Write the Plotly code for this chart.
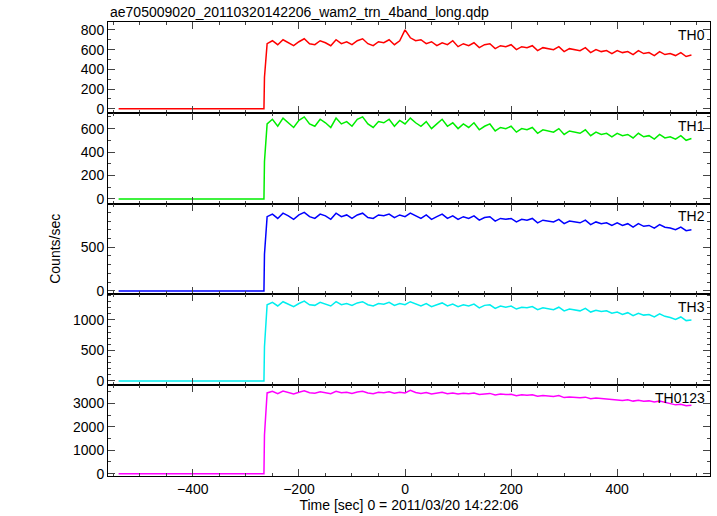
import plotly.graph_objects as go
from plotly.subplots import make_subplots

names = ["TH0", "TH1", "TH2", "TH3", "TH0123"]
colors = ["#ff0000", "#00ee00", "#0000ff", "#00eeee", "#ff00ff"]
pre_t = [-540, -266, -265]
pre_vals = {
    "TH0": [0, 0, 320], "TH1": [0, 0, 320], "TH2": [0, 0, 420],
    "TH3": [0, 0, 560], "TH0123": [0, 0, 1650]}
t_start, t_step = -260, 10
TH0 = [660,690,650,700,670,640,680,710,660,650,
       690,670,640,700,660,680,650,690,710,660,
       640,680,670,700,650,690,800,720,690,700,660,680,640,670,650,690,
       630,660,640,670,620,650,660,610,640,630,
       650,600,630,620,640,590,620,610,600,630,
       580,610,600,590,620,570,600,580,590,560,
       590,570,580,550,590,560,570,540,580,550,
       560,540,570,530,545]
TH1 = [640,680,620,690,650,610,670,700,640,620,
       680,650,610,690,640,660,620,680,700,640,
       610,660,650,680,620,670,640,690,650,620,660,600,640,680,620,650,
       600,640,610,650,590,620,640,580,610,600,
       620,570,600,590,610,560,590,580,570,600,
       550,580,570,560,590,540,570,550,560,530,
       560,540,550,520,560,530,540,510,550,520,
       530,510,540,500,515]
TH2 = [850,880,830,890,860,820,870,900,850,830,
       880,860,820,890,850,870,830,870,890,840,
       830,870,860,880,840,870,850,890,860,830,870,820,850,880,830,860,
       820,850,830,860,810,840,850,800,830,820,
       830,790,820,810,830,780,810,800,790,820,
       770,800,790,780,810,760,790,770,780,750,
       780,750,770,730,770,740,750,720,760,730,
       720,700,730,690,700]
TH3 = [1250,1290,1230,1300,1260,1220,1270,1310,1250,1240,
       1290,1260,1230,1300,1250,1270,1240,1280,1300,1250,
       1230,1270,1260,1290,1240,1270,1250,1300,1260,1230,1270,1220,1250,1280,1230,1260,
       1220,1250,1230,1260,1200,1240,1250,1190,1230,1210,
       1230,1180,1210,1200,1220,1170,1200,1190,1170,1210,
       1150,1180,1170,1150,1190,1130,1160,1140,1150,1110,
       1130,1090,1120,1070,1110,1080,1090,1050,1100,1060,
       1040,1010,1050,990,1000]
TH0123 = [3450,3520,3420,3530,3470,3410,3480,3540,3460,3440,
          3500,3470,3420,3520,3460,3480,3430,3490,3520,3450,
          3420,3480,3460,3500,3440,3480,3450,3560,3470,3430,3470,3400,3440,3480,3420,3450,
          3400,3440,3410,3450,3380,3420,3430,3360,3400,3380,
          3390,3330,3370,3350,3370,3310,3340,3320,3300,3340,
          3250,3280,3260,3240,3270,3200,3230,3210,3210,3170,
          3180,3130,3160,3100,3140,3090,3110,3060,3100,3050,
          2980,2940,2970,2900,2920]
series = {"TH0": TH0, "TH1": TH1, "TH2": TH2, "TH3": TH3, "TH0123": TH0123}
yranges = [[-40, 880], [-40, 735], [-40, 1000], [-70, 1420], [-100, 3780]]
yticks = [[0, 200, 400, 600, 800], [0, 200, 400, 600], [0, 500], [0, 500, 1000], [0, 1000, 2000, 3000]]
ydticks = [100, 100, 100, 100, 500]

fig = make_subplots(rows=5, cols=1, shared_xaxes=True, vertical_spacing=0)
font = dict(family="Liberation Sans, Arial", size=14, color="black")
for i, n in enumerate(names):
    vals = series[n]
    t = pre_t + [t_start + t_step * k for k in range(len(vals))]
    y = pre_vals[n] + vals
    fig.add_trace(go.Scatter(x=t, y=y, mode="lines", line=dict(color=colors[i], width=1.5),
                             showlegend=False), row=i + 1, col=1)
    fig.update_yaxes(range=yranges[i], tickvals=yticks[i], ticks="inside", ticklen=7,
                     showline=True, linecolor="black", linewidth=1, mirror="ticks",
                     showgrid=False, zeroline=False, tickfont=font,
                     minor=dict(ticks="inside", ticklen=3, dtick=ydticks[i], tick0=0),
                     row=i + 1, col=1)
    fig.add_annotation(text=n, xref="x domain", yref="y domain" if i == 0 else f"y{i+1} domain",
                       x=0.995, y=0.97, xanchor="right", yanchor="top", showarrow=False,
                       font=font)
for i in range(5):
    fig.update_xaxes(range=[-560, 575], tickvals=[-400, -200, 0, 200, 400], ticks="inside",
                     ticklen=7, showline=True, linecolor="black", linewidth=1, mirror="ticks",
                     showgrid=False, zeroline=False, tickfont=font,
                     showticklabels=(i == 4),
                     minor=dict(ticks="inside", ticklen=3, dtick=50),
                     row=i + 1, col=1)
fig.update_xaxes(title=dict(text="Time [sec] 0 = 2011/03/20 14:22:06", font=font, standoff=2), row=5, col=1)
fig.add_annotation(text="Counts/sec", xref="paper", yref="paper", x=-0.105, y=0.5,
                   textangle=-90, showarrow=False, font=font)
fig.add_annotation(text="ae705009020_20110320142206_wam2_trn_4band_long.qdp", xref="paper",
                   yref="paper", x=0, y=1.0, yanchor="bottom", xanchor="left", showarrow=False,
                   font=font)
fig.update_layout(width=717, height=516, margin=dict(l=108, r=7, t=22, b=40),
                  plot_bgcolor="white", paper_bgcolor="white")
fig.write_html("out.html", config={"displayModeBar": False},
               post_script="document.body.style.margin='0';document.body.style.overflow='hidden';")
